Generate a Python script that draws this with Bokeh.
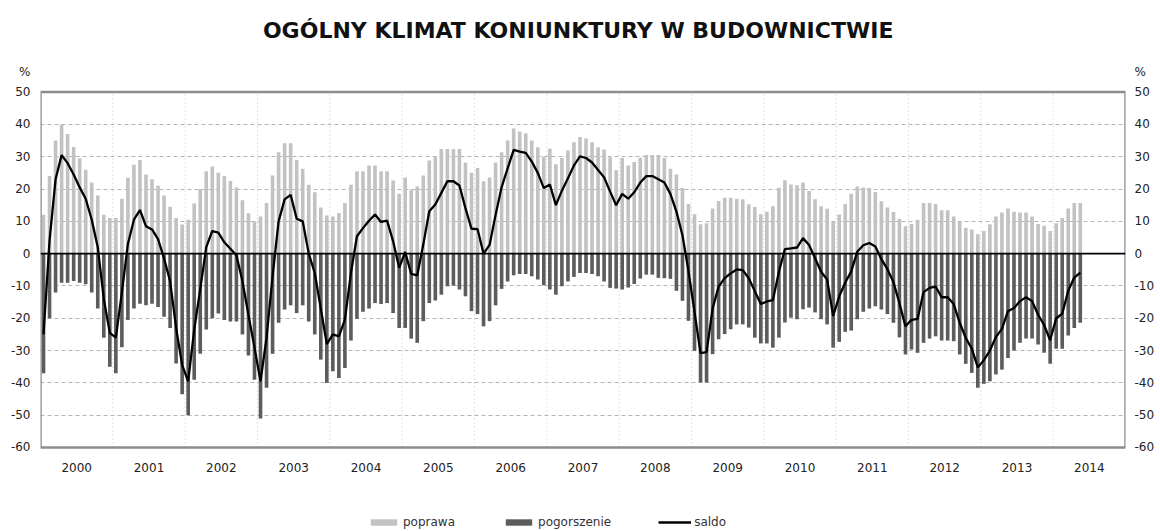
from bokeh.plotting import figure
from bokeh.models import (Range1d, LinearAxis, FixedTicker, Legend, LegendItem,
                          ColumnDataSource, Span)
from bokeh.core.properties import value
from bokeh.embed import file_html
from bokeh.resources import INLINE

# ---------------- data (monthly, Jan 2000 - May 2014) ----------------
years = [str(y) for y in range(2000, 2015)]

poprawa = [
    12, 24, 35, 40, 37, 33, 29.5, 26, 22, 18, 12, 11,                      # 2000
    11, 17, 23.5, 27.5, 29, 24.5, 23, 21, 18, 14.5, 11, 9,                 # 2001
    10.5, 15.5, 20, 25.5, 27, 25, 24, 22.5, 20.5, 16.5, 12.5, 10,          # 2002
    11.5, 15.7, 24.2, 31.4, 34.2, 34.2, 29, 26.3, 21.3, 19, 14.3, 11.8,    # 2003
    11.5, 12.6, 15.7, 21.3, 25.5, 25.5, 27.3, 27.3, 25.5, 25.5, 22.6, 18.5,  # 2004
    23.6, 19.8, 20.8, 24.2, 28.8, 30.1, 32.4, 32.4, 32.4, 32.4, 28.2, 25,  # 2005
    26.5, 22.4, 23.6, 28.2, 31.4, 35, 38.7, 37.8, 37.3, 35, 32.9, 30.1,    # 2006
    32.5, 27.7, 29.6, 31.9, 34.5, 36.1, 35.6, 34.5, 32.9, 32.2, 29.8, 25.8,  # 2007
    29.6, 27.3, 28.4, 29.7, 30.5, 30.5, 30.5, 29.6, 26.3, 24.5, 20.3, 15.4,  # 2008
    12.2, 9.1, 9.4, 14, 16.3, 17.3, 17.3, 17, 16.8, 15.3, 14.4, 12.2,      # 2009
    13, 14.7, 20.4, 22.7, 21.4, 21.2, 22, 19.4, 16.8, 14.7, 13.9, 9.8,     # 2010
    12.1, 15.4, 18.5, 20.8, 20.5, 20.3, 19.1, 16.2, 14.3, 12.9, 10.8, 8.5,  # 2011
    9.2, 10.5, 15.7, 15.7, 15.4, 13.4, 13.4, 11.5, 9.8, 8, 7.5, 6,         # 2012
    7, 9.1, 11.5, 12.7, 14, 13, 12.7, 12.7, 11.5, 9.2, 8.6, 7,             # 2013
    9.4, 11, 14, 15.7, 15.7,                                               # 2014
]

pogorszenie = [
    -37, -20, -12, -9, -9, -8.5, -9, -9.5, -12, -17, -26, -35,
    -37, -29, -20.5, -17, -15.5, -16, -15.5, -16.5, -19.5, -23, -34, -43.5,
    -50, -39, -31, -23.5, -20, -18.5, -20.5, -21, -21, -25, -31.5, -39,
    -51, -41.5, -31, -21.4, -17.3, -16, -18.4, -16, -21, -25, -32.8, -40,
    -36.4, -38.5, -35.4, -26.9, -20.2, -18, -17, -15.3, -15.6, -15.3, -18.4, -23,
    -23, -26.3, -27.6, -20.9, -15.3, -14.5, -12.7, -10.1, -9.9, -11.1, -13.2, -17.8,
    -18.7, -22.5, -20.9, -16, -10.9, -8.6, -6.7, -6.3, -6.3, -7, -8, -9.8,
    -11.1, -12.7, -10.1, -8.6, -7.2, -6, -6, -6.3, -7, -8.6, -10.6, -10.8,
    -11.1, -10.5, -9.4, -7.7, -6.5, -6.5, -7.5, -7.6, -7.8, -11.5, -14.6, -20.8,
    -30.1, -39.9, -39.9, -31.1, -26.5, -24.9, -23.4, -21.9, -21.9, -22.9, -26, -27.8,
    -27.8, -29.1, -26, -21.3, -19.8, -20.3, -17.2, -16.7, -18.2, -20.3, -21.9, -29.1,
    -27.3, -24.2, -23.8, -20.3, -18, -17, -16.3, -17.3, -18.7, -21.4, -25.9, -31.2,
    -29.7, -30.7, -27.6, -26.3, -25.6, -26.9, -26.9, -27.1, -31.2, -34.1, -36.9, -41.5,
    -40.3, -39.5, -37.4, -35.9, -32.3, -30, -27.6, -26.3, -26.3, -28.1, -30.7, -34.1,
    -29.4, -29.4, -25.3, -23, -21.4,
]

saldo = [
    -25, 4, 23, 30.5, 28, 24.5, 20.5, 17, 10.5, 2, -14, -24.5,
    -26, -12, 3, 10.5, 13.5, 8.5, 7.5, 4.5, -1.5, -8.5, -23, -34.5,
    -39.5, -23.5, -11, 2, 7, 6.5, 3.5, 1.5, -0.5, -8.5, -19, -29,
    -39.5, -26, -7, 10, 16.8, 18.2, 10.8, 10, 0, -6, -17, -28,
    -25, -25.6, -20.4, -6, 5.4, 7.9, 10.2, 12.1, 9.8, 10.2, 3.8, -4.4,
    0.5, -6.3, -6.7, 2.8, 13.1, 15.2, 18.8, 22.4, 22.4, 21.1, 14.1, 7.7,
    7.6, 0, 2.7, 12, 20.6, 26.4, 32.1, 31.6, 31.2, 28.5, 25, 20.3,
    21.4, 15, 19.5, 23.3, 27.3, 30.1, 29.6, 28.2, 25.9, 23.6, 19.2, 15,
    18.5, 17, 19, 22, 24, 24, 23, 22, 18.5, 13, 5.7, -5.4,
    -18, -30.8, -30.5, -17, -10.2, -7.6, -6.1, -4.9, -5.1, -7.6, -11.6, -15.6,
    -14.8, -14.4, -5.6, 1.4, 1.6, 1.9, 4.8, 2.7, -1.4, -5.6, -8, -19.3,
    -13.2, -9, -5.5, 0.6, 2.6, 3.3, 2.2, -1.7, -4.8, -8.8, -15.4, -22.5,
    -20.5, -20.2, -11.9, -10.6, -10.2, -13.5, -13.5, -15.6, -21.4, -26.1, -29.4, -35.2,
    -33, -30, -25.8, -23.3, -17.8, -16.8, -14.7, -13.5, -14.7, -18.9, -22.1, -26.8,
    -20, -18.6, -11.5, -7.4, -5.9,
]

y_ticks = [50, 40, 30, 20, 10, 0, -10, -20, -30, -40, -50, -60]
y_min, y_max = -60, 50
unit_pos = 56.2           # "%" unit above the value axes
year_label_pos = -66.2    # row of year names under the plot box
title_pos = (89.2, 69.1)  # title centre above the plot box
title_text = "OGÓLNY KLIMAT KONIUNKTURY W BUDOWNICTWIE"
unit_text = "%"
legend_labels = ["poprawa", "pogorszenie", "saldo"]

# ---------------- figure ----------------
FONT = "DejaVu Sans"
LIGHT = "#c2c2c2"
DARK = "#5c5c5c"
BOX = "#8c8c8c"

n = len(poprawa)
n_months = 12 * len(years)
src = ColumnDataSource(dict(x=[i + 0.5 for i in range(n)], p=poprawa, d=pogorszenie, s=saldo))

p = figure(width=1160, height=531, output_backend="svg", toolbar_location=None,
           x_range=Range1d(0, n_months), y_range=Range1d(-86, 78.35),
           x_axis_location=None,
           min_border_left=40, min_border_right=35, min_border_top=0, min_border_bottom=0)
p.background_fill_color = "white"
p.border_fill_color = "white"
p.outline_line_color = None

# grids: dashed horizontals; dotted year separators inside the plot box
p.xgrid.visible = False
p.ygrid.ticker = FixedTicker(ticks=[t for t in y_ticks if t not in (0, y_max, y_min)])
p.ygrid.grid_line_color = "#b4b4b4"
p.ygrid.grid_line_dash = "4 3"
year_edges = [12 * k for k in range(1, len(years))]
p.segment(x0=year_edges, x1=year_edges, y0=[y_min] * len(year_edges), y1=[y_max] * len(year_edges),
          line_color="#c8c8c8", line_dash="1 3", line_width=1)


def style_axis(ax, standoff):
    ax.axis_line_color = None
    ax.major_tick_line_color = None
    ax.minor_tick_line_color = None
    ax.major_tick_out = 0
    ax.major_tick_in = 0
    ax.minor_tick_out = 0
    ax.minor_tick_in = 0
    ax.major_label_text_font = FONT
    ax.major_label_text_font_size = "12px"
    ax.major_label_text_color = "#222222"
    ax.major_label_standoff = standoff


# y axes: plain hyphen for negatives, "%" unit on top
y_labels = {t: str(t) for t in y_ticks}
y_labels[unit_pos] = unit_text
p.yaxis.ticker = FixedTicker(ticks=y_ticks + [unit_pos])
p.yaxis.major_label_overrides = y_labels
style_axis(p.yaxis[0], 10)
right = LinearAxis(ticker=FixedTicker(ticks=y_ticks + [unit_pos]),
                   major_label_overrides=dict(y_labels))
style_axis(right, 9)
p.add_layout(right, "right")

# title
p.text(x=[title_pos[0]], y=[title_pos[1]], text=[title_text],
       text_font=value(FONT), text_font_style="bold", text_font_size="22px",
       text_color="#111111", text_align="center", text_baseline="middle")

# year names centred under each year
p.text(x=[12 * k + 6 for k in range(len(years))], y=[year_label_pos] * len(years), text=years,
       text_font=value(FONT), text_font_size="12px", text_color="#222222",
       text_align="center", text_baseline="middle")

# bars & line
r_p = p.vbar(x="x", top="p", bottom=0, width=0.6, source=src,
             fill_color=LIGHT, line_color=None)
r_d = p.vbar(x="x", top=0, bottom="d", width=0.6, source=src,
             fill_color=DARK, line_color=None)
p.add_layout(Span(location=0, dimension="width", line_color="black", line_width=1.8))
r_s = p.line(x="x", y="s", source=src, line_color="black", line_width=2.3)

# plot box (value range -60..50)
p.quad(left=[0], right=[n_months], bottom=[y_min], top=[y_max],
       fill_color=None, line_color=BOX, line_width=2.5)

# legend under the chart
legend = Legend(items=[LegendItem(label=legend_labels[0], renderers=[r_p]),
                       LegendItem(label=legend_labels[1], renderers=[r_d]),
                       LegendItem(label=legend_labels[2], renderers=[r_s])],
                orientation="horizontal", location=(327, 2),
                glyph_width=33, glyph_height=8, label_height=12, label_standoff=3,
                spacing=47, padding=0, margin=0,
                border_line_color=None, background_fill_alpha=0,
                label_text_font=FONT, label_text_font_size="12px",
                label_text_color="#333333")
p.add_layout(legend, "center")

open("out.html", "w").write(file_html(p, INLINE))
